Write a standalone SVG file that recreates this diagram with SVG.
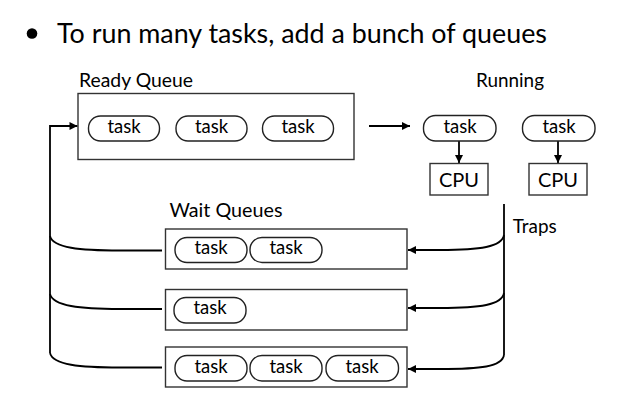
<svg xmlns="http://www.w3.org/2000/svg" width="638" height="402" viewBox="0 0 638 402">
  <style>
    text { font-family: Lato, "Open Sans", "Liberation Sans", sans-serif; fill: #000; }
    .title { font-size: 27px; }
    .label { font-size: 18.5px; }
    .task-text { font-size: 18.5px; text-anchor: middle; }
    .cpu-text { font-size: 20px; text-anchor: middle; }
    .queue { fill: #fff; stroke: #333; stroke-width: 1.4; }
    .pill { fill: #fff; stroke: #222; stroke-width: 1.4; }
    .cpu { fill: #fff; stroke: #333; stroke-width: 1.4; }
    .wire { fill: none; stroke: #000; stroke-width: 1.8; }
  </style>
  <defs>
    <marker id="arrow" viewBox="0 0 10 10" refX="10" refY="5" markerWidth="9" markerHeight="8" markerUnits="userSpaceOnUse" orient="auto">
      <path d="M0,0 L10,5 L0,10 Z" fill="#000"/>
    </marker>
  </defs>

  <rect width="638" height="402" fill="#fff"/>

  <!-- heading -->
  <g id="heading">
    <circle cx="32" cy="33.5" r="5.3" fill="#000"/>
    <text class="title" x="57" y="43.3" textLength="490" lengthAdjust="spacingAndGlyphs">To run many tasks, add a bunch of queues</text>
  </g>

  <!-- section labels -->
  <g id="labels">
    <text class="label" x="79" y="86.7" textLength="114" lengthAdjust="spacingAndGlyphs">Ready Queue</text>
    <text class="label" x="476" y="86.7" textLength="68" lengthAdjust="spacingAndGlyphs">Running</text>
    <text class="label" x="169.5" y="216.7" textLength="113" lengthAdjust="spacingAndGlyphs">Wait Queues</text>
    <text class="label" x="512.7" y="233.3" textLength="44" lengthAdjust="spacingAndGlyphs">Traps</text>
  </g>

  <!-- connectors -->
  <g id="connectors">
    <!-- ready queue to running -->
    <path class="wire" d="M369,126 H410" marker-end="url(#arrow)"/>
    <!-- running task to CPU -->
    <path class="wire" d="M459,141 V163" marker-end="url(#arrow)"/>
    <path class="wire" d="M558,141 V163" marker-end="url(#arrow)"/>
    <!-- trap bus from running tasks -->
    <path class="wire" d="M504,204 V355"/>
    <path class="wire" d="M504,235 C502,247 480,250 440,250 H408" marker-end="url(#arrow)"/>
    <path class="wire" d="M504,293 C502,305 480,308 440,308 H408" marker-end="url(#arrow)"/>
    <path class="wire" d="M504,355 C502,367 480,369 440,369 H408" marker-end="url(#arrow)"/>
    <!-- wait queues back to ready queue -->
    <path class="wire" d="M162,250.5 H120 C80,250.5 53,248 50,236"/>
    <path class="wire" d="M162,309 H120 C80,309 53,306 50,294"/>
    <path class="wire" d="M162,367.5 H120 C80,367.5 53,365 50,353"/>
    <path class="wire" d="M50,353 V126 H77.5" marker-end="url(#arrow)"/>
  </g>

  <!-- ready queue -->
  <g id="ready-queue">
    <rect class="queue" x="78" y="93.5" width="276" height="66"/>
    <rect class="pill" x="88.5" y="116" width="71" height="25" rx="12"/>
    <text class="task-text" x="124" y="133">task</text>
    <rect class="pill" x="176" y="116" width="71" height="25" rx="12"/>
    <text class="task-text" x="211.5" y="133">task</text>
    <rect class="pill" x="262.5" y="116" width="71" height="25" rx="12"/>
    <text class="task-text" x="298" y="133">task</text>
  </g>

  <!-- running tasks -->
  <g id="running-task-1">
    <rect class="pill" x="423.5" y="115.5" width="72.5" height="25.5" rx="12"/>
    <text class="task-text" x="460" y="133">task</text>
  </g>
  <g id="running-task-2">
    <rect class="pill" x="522.5" y="115.5" width="72.5" height="25.5" rx="12"/>
    <text class="task-text" x="559" y="133">task</text>
  </g>

  <!-- processors -->
  <g id="cpu-1">
    <rect class="cpu" x="430" y="163.5" width="58" height="31.5"/>
    <text class="cpu-text" x="459" y="186.5">CPU</text>
  </g>
  <g id="cpu-2">
    <rect class="cpu" x="529" y="163.5" width="58" height="31.5"/>
    <text class="cpu-text" x="558" y="186.5">CPU</text>
  </g>

  <!-- wait queues -->
  <g id="wait-queue-1">
    <rect class="queue" x="165.5" y="229" width="241.5" height="40"/>
    <rect class="pill" x="175" y="237.5" width="72" height="25" rx="12"/>
    <text class="task-text" x="211" y="254">task</text>
    <rect class="pill" x="250" y="237.5" width="72" height="25" rx="12"/>
    <text class="task-text" x="286" y="254">task</text>
  </g>
  <g id="wait-queue-2">
    <rect class="queue" x="165.5" y="289.5" width="241.5" height="40.5"/>
    <rect class="pill" x="174" y="297.5" width="72" height="25.5" rx="12"/>
    <text class="task-text" x="210" y="314">task</text>
  </g>
  <g id="wait-queue-3">
    <rect class="queue" x="165.5" y="347" width="241.5" height="40"/>
    <rect class="pill" x="175" y="355.5" width="72" height="25.5" rx="12"/>
    <text class="task-text" x="211" y="372.5">task</text>
    <rect class="pill" x="250" y="355.5" width="72" height="25.5" rx="12"/>
    <text class="task-text" x="286" y="372.5">task</text>
    <rect class="pill" x="326" y="355.5" width="72.5" height="25.5" rx="12"/>
    <text class="task-text" x="362" y="372.5">task</text>
  </g>
</svg>
